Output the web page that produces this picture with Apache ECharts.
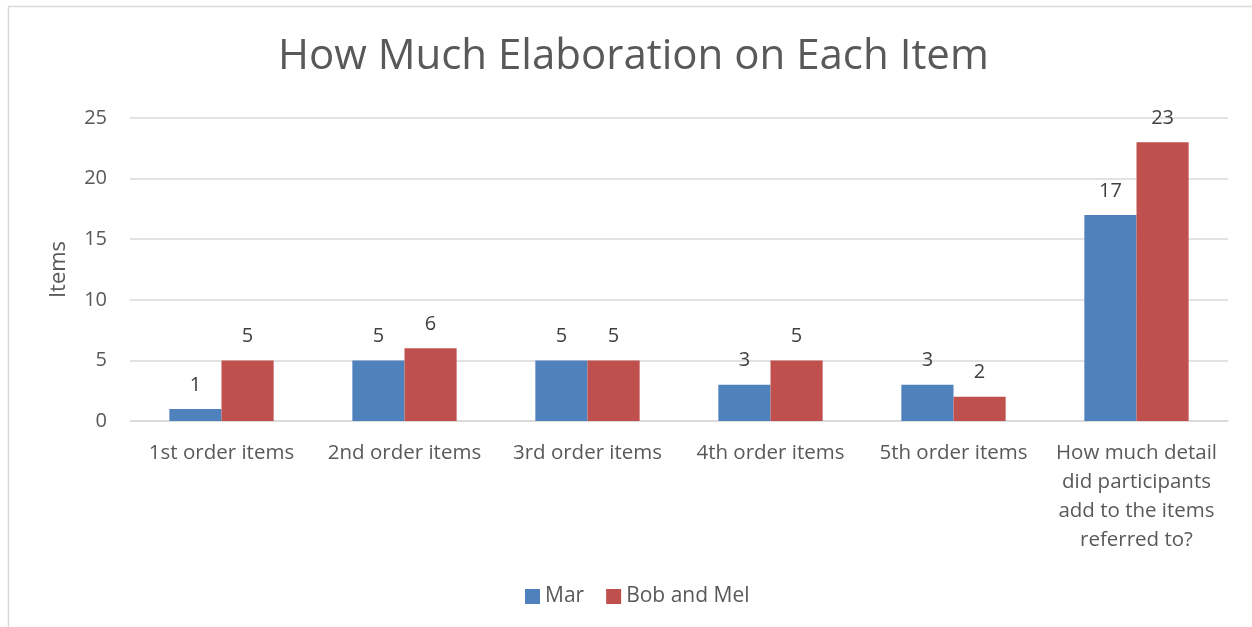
<!DOCTYPE html>
<html>
<head>
<meta charset="utf-8">
<script src="https://cdn.jsdelivr.net/npm/echarts@6/dist/echarts.min.js"></script>
<style>
html,body{margin:0;padding:0;background:#fff;}
#chart{width:1252px;height:627px;}
</style>
</head>
<body>
<div id="chart"></div>
<script>
const categories = ["1st order items", "2nd order items", "3rd order items", "4th order items", "5th order items", "How much detail\ndid participants\nadd to the items\nreferred to?"];
const marValues = [1, 5, 5, 3, 3, 17];
const bobMelValues = [5, 6, 5, 5, 2, 23];
const seriesNames = ["Mar", "Bob and Mel"];

const FONT = "'Open Sans', 'Noto Sans', sans-serif";
const chart = echarts.init(document.getElementById('chart'));
chart.setOption({
  backgroundColor: '#fff',
  animation: false,
  textStyle: { fontFamily: FONT },
  graphic: [{
    type: 'rect', silent: true,
    shape: { x: 8.5, y: 6.5, width: 1270, height: 650 },
    style: { fill: 'none', stroke: '#d9d9d9', lineWidth: 1.5 }
  }],
  title: {
    text: 'How Much Elaboration on Each Item',
    left: 273, top: 31, padding: 5,
    textStyle: { fontFamily: FONT, fontSize: 42, fontWeight: 'normal', color: '#595959' }
  },
  legend: {
    bottom: 15, left: 520, padding: 5,
    itemWidth: 15, itemHeight: 15, itemGap: 22,
    icon: 'rect',
    textStyle: { fontFamily: FONT, fontSize: 21, color: '#595959' },
    data: seriesNames
  },
  grid: { left: 130, right: 24, top: 118, bottom: 206 },
  xAxis: {
    type: 'category',
    data: categories,
    axisLine: { lineStyle: { color: '#d9d9d9', width: 1.5 } },
    axisTick: { show: false },
    axisLabel: { fontFamily: FONT, fontSize: 20.5, color: '#595959', margin: 18, lineHeight: 29, interval: 0 }
  },
  yAxis: {
    type: 'value', min: 0, max: 25, interval: 5,
    name: 'Items', nameLocation: 'middle', nameGap: 60, nameRotate: 90,
    nameTextStyle: { fontFamily: FONT, fontSize: 22, color: '#595959' },
    axisLine: { show: false }, axisTick: { show: false },
    axisLabel: { fontFamily: FONT, fontSize: 20, color: '#595959', margin: 23 },
    splitLine: { lineStyle: { color: '#d9d9d9', width: 1.5 } }
  },
  series: [
    {
      name: seriesNames[0], type: 'bar', data: marValues,
      barGap: '0%', barCategoryGap: '43%',
      itemStyle: { color: '#4F81BD' },
      label: { show: true, position: 'top', distance: 14, fontFamily: FONT, fontSize: 20, color: '#404040' }
    },
    {
      name: seriesNames[1], type: 'bar', data: bobMelValues,
      barGap: '0%', barCategoryGap: '43%',
      itemStyle: { color: '#C0504D' },
      label: { show: true, position: 'top', distance: 14, fontFamily: FONT, fontSize: 20, color: '#404040' }
    }
  ]
});
</script>
</body>
</html>
